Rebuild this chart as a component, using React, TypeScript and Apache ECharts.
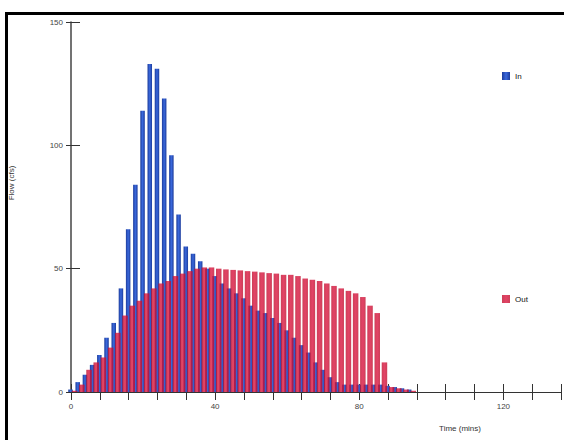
import React, { useEffect, useRef } from "react";
import * as echarts from "echarts";

const inTimes = [0, 2, 4, 6, 8, 10, 12, 14, 16, 18, 20, 22, 24, 26, 28, 30, 32, 34, 36, 38, 40, 42, 44, 46, 48, 50, 52, 54, 56, 58, 60, 62, 64, 66, 68, 70, 72, 74, 76, 78, 80, 82, 84, 86, 88, 90, 92, 94];
const inFlow = [1, 4, 7, 11, 15, 22, 28, 42, 66, 84, 114, 133, 131, 119, 96, 72, 59, 56, 53, 50, 47, 44, 42, 40, 38, 35, 33, 32, 30, 28, 25, 22, 19, 16, 12, 9, 6, 4, 3, 3, 3, 3, 3, 3, 2.5, 2, 1.5, 1];
const outTimes = [1, 3, 5, 7, 9, 11, 13, 15, 17, 19, 21, 23, 25, 27, 29, 31, 33, 35, 37, 39, 41, 43, 45, 47, 49, 51, 53, 55, 57, 59, 61, 63, 65, 67, 69, 71, 73, 75, 77, 79, 81, 83, 85, 87, 89, 91, 93, 95];
const outFlow = [0.5, 3, 9, 12, 14, 18, 24, 31, 35, 37, 40, 42, 44, 45, 47, 48, 49, 50, 50.5, 50.5, 50, 49.7, 49.5, 49.3, 49, 48.8, 48.5, 48.2, 48, 47.5, 47.5, 47, 46, 45.5, 45, 44, 43, 42, 41, 40, 38.5, 35, 32, 12, 2, 1.5, 1, 0.5];
const xLabelTicks = [0, 40, 80, 120];
const seriesNames = ["In", "Out"];

export default function App() {
  const ref = useRef<HTMLDivElement>(null);
  useEffect(() => {
    const chart = echarts.init(ref.current!, null, { renderer: "svg" });
    const font = "Liberation Sans";
    const blue = new echarts.graphic.LinearGradient(0, 0, 1, 0, [
      { offset: 0, color: "#1c3c9c" },
      { offset: 0.5, color: "#3a68dc" },
      { offset: 1, color: "#1c3c9c" },
    ]);
    const red = new echarts.graphic.LinearGradient(0, 0, 1, 0, [
      { offset: 0, color: "#c0102e" },
      { offset: 0.5, color: "#dc1440" },
      { offset: 1, color: "#c0102e" },
    ]);
    chart.setOption({
      animation: false,
      textStyle: { fontFamily: font },
      grid: { left: 71, right: 3, top: 22, bottom: 48, containLabel: false },
      legend: [
        {
          data: [seriesNames[0]], left: 497, top: 67, icon: "rect", itemWidth: 8, itemHeight: 8,
          textStyle: { fontSize: 8, color: "#111", fontFamily: font },
        },
        {
          data: [seriesNames[1]], left: 497, top: 290, icon: "rect", itemWidth: 8, itemHeight: 8,
          textStyle: { fontSize: 8, color: "#111", fontFamily: font },
        },
      ],
      xAxis: [
        {
          type: "value", min: 0, max: 136, interval: 8,
          axisLine: { show: true, lineStyle: { color: "#333", width: 1 } },
          axisTick: { show: true, length: 8, lineStyle: { color: "#333" } },
          axisLabel: {
            margin: 10, fontSize: 8, color: "#444",
            formatter: (v: number) => (xLabelTicks.includes(v) ? String(v) : ""),
          },
          splitLine: { show: false },
        },
        {
          type: "value", min: 0, max: 136, interval: 8, position: "bottom",
          axisLine: { show: false },
          axisTick: { show: true, inside: true, length: 8, lineStyle: { color: "#333" } },
          axisLabel: { show: false },
          splitLine: { show: false },
        },
      ],
      yAxis: [
        {
          type: "value", min: 0, max: 150, interval: 50,
          axisLine: { show: true, lineStyle: { color: "#444", width: 1.5 } },
          axisTick: { show: true, length: 5, lineStyle: { color: "#333" } },
          axisLabel: { margin: 8, fontSize: 8, color: "#444" },
          splitLine: { show: false },
        },
        {
          type: "value", min: 0, max: 150, interval: 50, position: "left",
          axisLine: { show: false },
          axisTick: { show: true, inside: true, length: 9, lineStyle: { color: "#333" } },
          axisLabel: { show: false },
          splitLine: { show: false },
        },
      ],
      series: [
        {
          type: "bar", name: seriesNames[0], xAxisIndex: 0, yAxisIndex: 0,
          data: inTimes.map((t, i) => [t, inFlow[i]]),
          barWidth: 4.5, barGap: "-100%",
          itemStyle: { color: blue },
        },
        {
          type: "bar", name: seriesNames[1], xAxisIndex: 0, yAxisIndex: 0,
          data: outTimes.map((t, i) => [t, outFlow[i]]),
          barWidth: 5.5, barGap: "-100%",
          itemStyle: { color: red, opacity: 0.8 },
        },
      ],
      graphic: [
        {
          type: "text", x: 11, y: 183, rotation: Math.PI / 2,
          style: { text: "Flow (cfs)", fontSize: 8, fill: "#333", textAlign: "center", textVerticalAlign: "middle", fontFamily: font },
        },
        {
          type: "text", x: 460, y: 428,
          style: { text: "Time (mins)", fontSize: 8, fill: "#333", textAlign: "center", textVerticalAlign: "middle", fontFamily: font },
        },
        { type: "rect", shape: { x: 5, y: 12, width: 3, height: 428 }, style: { fill: "#000" } },
        { type: "rect", shape: { x: 5, y: 12, width: 559, height: 3 }, style: { fill: "#000" } },
      ],
    });
    return () => chart.dispose();
  }, []);
  return (
    <div
      ref={ref}
      style={{ position: "fixed", left: 0, top: 0, width: 564, height: 440, background: "#fff" }}
    />
  );
}
